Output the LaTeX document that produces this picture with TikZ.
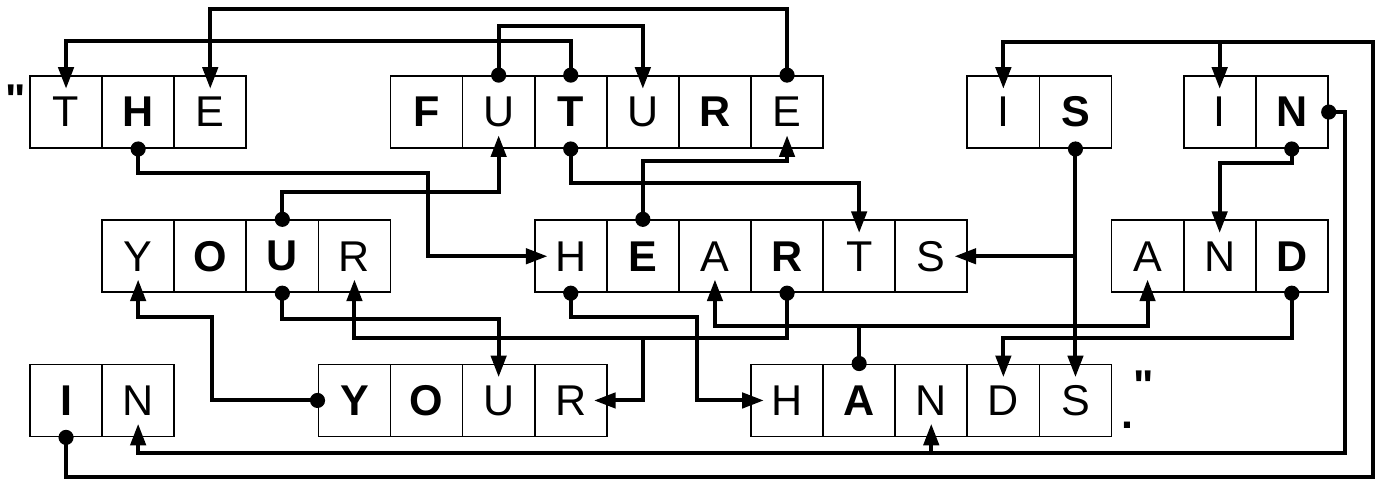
\documentclass[tikz,border=0pt]{standalone}
\usepackage{fontspec}
\setmainfont{Liberation Sans}
\newfontfamily\qfont{Liberation Sans}
\usetikzlibrary{arrows.meta}
\begin{document}
\begin{tikzpicture}[>={Triangle[length=0.3cm,width=0.21cm]}, font=\fontsize{17}{20}\selectfont]
    \tikzset{cell/.style={draw, line width=0.7pt, minimum width=1cm, minimum height=1cm, inner sep=0pt},
             bcell/.style={cell, font=\fontsize{17}{20}\selectfont\bfseries},
             quot/.style={anchor=base, inner sep=0pt, font=\fontsize{17}{20}\selectfont\qfont\bfseries},
             link/.style={->, line width=1.6pt, shorten >=-5.4pt}}
    \useasboundingbox (-0.416,-5.589) rectangle (18.696,1.054);
    % "THE FUTURE IS IN
    \node[cell]  (t1) at (0.5,-0.5) {T};
    \node[bcell] (t2) at (1.5,-0.5) {H};
    \node[cell]  (t3) at (2.5,-0.5) {E};
    \node[bcell] (f1) at (5.5,-0.5) {F};
    \node[cell]  (f2) at (6.5,-0.5) {U};
    \node[bcell] (f3) at (7.5,-0.5) {T};
    \node[cell]  (f4) at (8.5,-0.5) {U};
    \node[bcell] (f5) at (9.5,-0.5) {R};
    \node[cell]  (f6) at (10.5,-0.5) {E};
    \node[cell]  (s1) at (13.5,-0.5) {I};
    \node[bcell] (s2) at (14.5,-0.5) {S};
    \node[cell]  (n1) at (16.5,-0.5) {I};
    \node[bcell] (n2) at (17.5,-0.5) {N};
    % YOUR HEARTS AND
    \node[cell]  (y1) at (1.5,-2.5) {Y};
    \node[bcell] (y2) at (2.5,-2.5) {O};
    \node[bcell] (y3) at (3.5,-2.5) {U};
    \node[cell]  (y4) at (4.5,-2.5) {R};
    \node[cell]  (h1) at (7.5,-2.5) {H};
    \node[bcell] (h2) at (8.5,-2.5) {E};
    \node[cell]  (h3) at (9.5,-2.5) {A};
    \node[bcell] (h4) at (10.5,-2.5) {R};
    \node[cell]  (h5) at (11.5,-2.5) {T};
    \node[cell]  (h6) at (12.5,-2.5) {S};
    \node[cell]  (a1) at (15.5,-2.5) {A};
    \node[cell]  (a2) at (16.5,-2.5) {N};
    \node[bcell] (a3) at (17.5,-2.5) {D};
    % IN YOUR HANDS."
    \node[bcell] (i1) at (0.5,-4.5) {I};
    \node[cell]  (i2) at (1.5,-4.5) {N};
    \node[bcell] (u1) at (4.5,-4.5) {Y};
    \node[bcell] (u2) at (5.5,-4.5) {O};
    \node[cell]  (u3) at (6.5,-4.5) {U};
    \node[cell]  (u4) at (7.5,-4.5) {R};
    \node[cell]  (d1) at (10.5,-4.5) {H};
    \node[bcell] (d2) at (11.5,-4.5) {A};
    \node[cell]  (d3) at (12.5,-4.5) {N};
    \node[cell]  (d4) at (13.5,-4.5) {D};
    \node[cell]  (d5) at (14.5,-4.5) {S};
    \node[quot] (lq) at (-0.2,-0.527) {"};
    \node[quot] (pt) at (15.22,-4.882) {.};
    \node[quot] (rq) at (15.45,-4.494) {"};
    % links
    \draw[link] (f6.north) -- ++(0,0.915) -| (t3.north);
    \draw[link] (f3.north) -- ++(0,0.472) -| (t1.north);
    \draw[link] (f2.north) -- ++(0,0.684) -| (f4.north);
    \draw[link] (t2.south) |- (5.52,-1.345) |- (h1.west);
    \draw[link] (y3.north) -- ++(0,0.377) -| (f2.south);
    \draw[link] (f3.south) -- ++(0,-0.47) -| (h5.north);
    \draw[link] (h2.north) -- ++(0,0.811) -| (f6.south);
    \draw[link] (s2.south) -- (d5.north);
    \coordinate (sj) at (s2.south |- h6.east);
    \draw[link] (sj) -- (h6.east);
    \draw[link] (n2.south) -- ++(0,-0.189) -| (a2.north);
    \draw[link] (n2.east) -| (18.24,-5.229) -| (i2.south);
    \coordinate (nj) at (d3.south |- 0,-5.229);
    \draw[link] (nj) -- (d3.south);
    \draw[link] (i1.south) |- (18.63,-5.562) -- (18.63,0.472) -| (s1.north);
    \coordinate (ij) at (n1.north |- 0,0.472);
    \draw[link] (ij) -- (n1.north);
    \draw[link] (y3.south) -- ++(0,-0.356) -| (u3.north);
    \draw[link] (h4.south) -- ++(0,-0.62) -| (y4.south);
    \coordinate (rj) at (h2.south |- 0,-3.62);
    \draw[link] (rj) |- (u4.east);
    \draw[link] (h1.south) |- (9.25,-3.343) |- (d1.west);
    \coordinate (aj) at (d2.north |- 0,-3.467);
    \draw[link] (d2.north) -- (aj) -| (h3.south);
    \draw[link] (aj) -| (a1.south);
    \draw[link] (a3.south) -- ++(0,-0.62) -| (d4.north);
    \draw[link] (u1.west) -| (2.52,-3.343) -| (y1.south);
    % dots
    \foreach \p in {t2.south, f2.north, f3.north, f6.north, f3.south, y3.north, y3.south,
                    h1.south, h2.north, h4.south, s2.south, n2.south, n2.east,
                    a3.south, i1.south, u1.west, d2.north}
        \fill (\p) circle (0.105);
\end{tikzpicture}
\end{document}
